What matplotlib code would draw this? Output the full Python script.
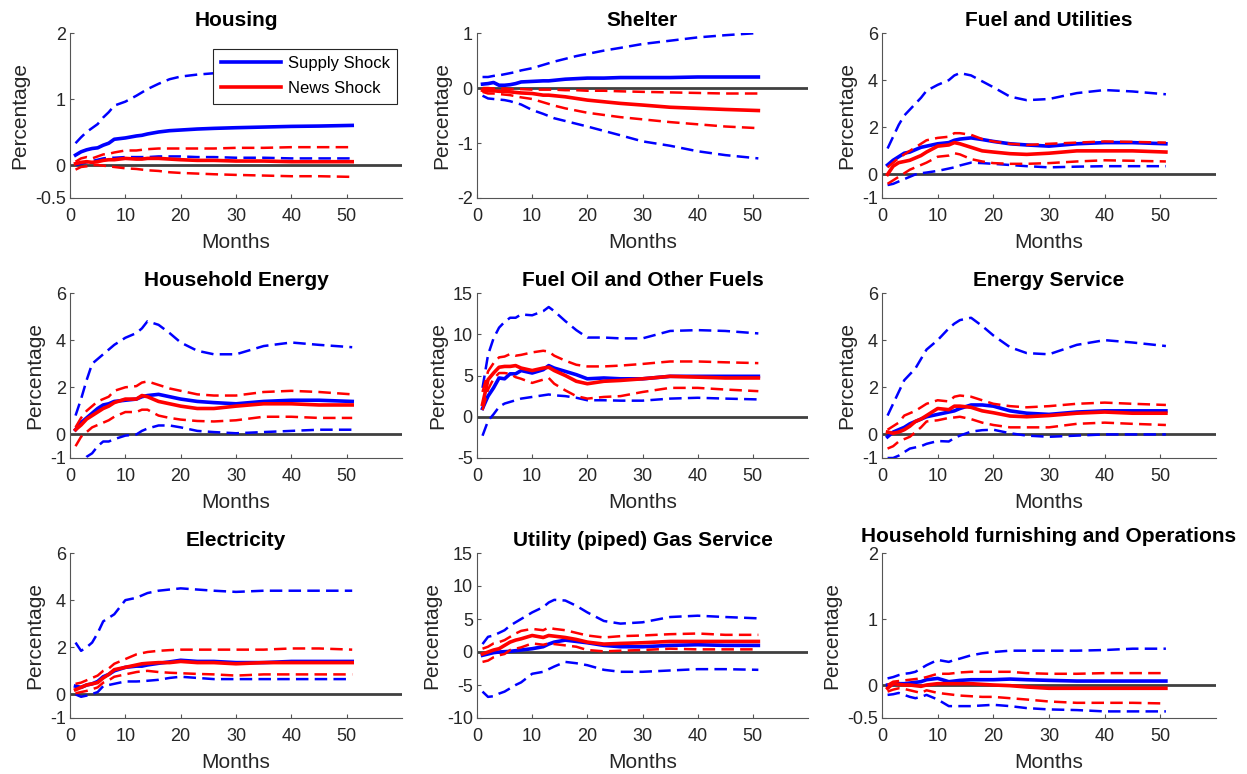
import numpy as np
import matplotlib
matplotlib.use("Agg")
import matplotlib.pyplot as plt

plt.rcParams['font.family'] = ['Liberation Sans', 'DejaVu Sans']

months = [1, 2, 3, 4, 5, 6, 7, 8, 10, 12, 13, 14, 16, 18, 20, 23, 26, 30, 35, 40, 45, 51]

# Housing
housing_supply = [0.15, 0.2, 0.23, 0.25, 0.26, 0.3, 0.33, 0.39, 0.41, 0.44, 0.45, 0.47, 0.5, 0.52, 0.53, 0.545, 0.555, 0.565, 0.575, 0.585, 0.59, 0.6]
housing_supply_hi = [0.33, 0.42, 0.5, 0.56, 0.62, 0.72, 0.8, 0.9, 0.96, 1.05, 1.1, 1.15, 1.23, 1.3, 1.34, 1.37, 1.39, 1.41, 1.43, 1.45, 1.46, 1.47]
housing_supply_lo = [0.0, 0.02, 0.04, 0.06, 0.08, 0.1, 0.11, 0.11, 0.12, 0.12, 0.12, 0.12, 0.13, 0.13, 0.13, 0.12, 0.12, 0.11, 0.11, 0.1, 0.1, 0.1]
housing_news = [0.02, 0.04, 0.05, 0.04, 0.05, 0.07, 0.08, 0.08, 0.1, 0.09, 0.09, 0.1, 0.1, 0.09, 0.08, 0.07, 0.07, 0.06, 0.06, 0.05, 0.05, 0.05]
housing_news_hi = [0.05, 0.1, 0.12, 0.1, 0.13, 0.16, 0.17, 0.19, 0.22, 0.22, 0.23, 0.24, 0.25, 0.25, 0.25, 0.25, 0.25, 0.26, 0.26, 0.27, 0.27, 0.27]
housing_news_lo = [-0.07, -0.03, -0.02, 0.0, 0.0, -0.01, -0.02, -0.03, -0.05, -0.06, -0.07, -0.08, -0.09, -0.11, -0.12, -0.13, -0.14, -0.15, -0.16, -0.17, -0.17, -0.18]

# Shelter
shelter_supply = [0.07, 0.08, 0.1, 0.05, 0.05, 0.06, 0.08, 0.11, 0.12, 0.13, 0.13, 0.14, 0.16, 0.17, 0.18, 0.18, 0.19, 0.19, 0.19, 0.2, 0.2, 0.2]
shelter_supply_hi = [0.2, 0.2, 0.22, 0.23, 0.25, 0.27, 0.29, 0.32, 0.36, 0.42, 0.45, 0.48, 0.53, 0.58, 0.62, 0.68, 0.73, 0.8, 0.86, 0.92, 0.96, 1.0]
shelter_supply_lo = [-0.14, -0.19, -0.2, -0.21, -0.22, -0.24, -0.27, -0.3, -0.4, -0.47, -0.51, -0.55, -0.6, -0.65, -0.7, -0.78, -0.86, -0.97, -1.05, -1.15, -1.22, -1.28]
shelter_news = [-0.04, -0.05, -0.05, -0.06, -0.06, -0.07, -0.08, -0.09, -0.1, -0.13, -0.13, -0.14, -0.16, -0.19, -0.22, -0.25, -0.28, -0.31, -0.35, -0.37, -0.39, -0.41]
shelter_news_hi = [0.0, 0.0, -0.01, -0.01, -0.01, -0.02, -0.02, -0.02, -0.03, -0.03, -0.03, -0.03, -0.04, -0.04, -0.05, -0.05, -0.06, -0.07, -0.08, -0.09, -0.1, -0.1]
shelter_news_lo = [-0.07, -0.1, -0.1, -0.11, -0.12, -0.13, -0.15, -0.17, -0.2, -0.26, -0.29, -0.32, -0.37, -0.41, -0.45, -0.49, -0.53, -0.57, -0.62, -0.66, -0.7, -0.73]

# Fuel and Utilities
fuel_util_supply = [0.4, 0.6, 0.75, 0.9, 0.95, 1.05, 1.15, 1.2, 1.3, 1.35, 1.45, 1.5, 1.55, 1.48, 1.4, 1.3, 1.25, 1.2, 1.3, 1.35, 1.35, 1.3]
fuel_util_supply_hi = [1.1, 1.6, 2.1, 2.5, 2.75, 3.0, 3.25, 3.55, 3.8, 4.0, 4.2, 4.3, 4.2, 3.95, 3.7, 3.3, 3.15, 3.2, 3.45, 3.58, 3.52, 3.4]
fuel_util_supply_lo = [-0.45, -0.4, -0.3, -0.2, -0.1, 0.0, 0.05, 0.08, 0.15, 0.25, 0.3, 0.38, 0.5, 0.48, 0.45, 0.4, 0.35, 0.3, 0.33, 0.35, 0.35, 0.35]
fuel_util_news = [0.0, 0.35, 0.5, 0.55, 0.6, 0.7, 0.8, 0.95, 1.2, 1.25, 1.35, 1.3, 1.15, 1.0, 0.95, 0.88, 0.85, 0.9, 1.0, 1.0, 1.0, 0.95]
fuel_util_news_hi = [0.3, 0.5, 0.7, 0.85, 1.0, 1.15, 1.3, 1.45, 1.55, 1.6, 1.75, 1.75, 1.68, 1.5, 1.4, 1.3, 1.25, 1.3, 1.35, 1.4, 1.38, 1.35]
fuel_util_news_lo = [-0.4, -0.25, -0.1, 0.05, 0.2, 0.3, 0.4, 0.5, 0.75, 0.8, 0.9, 0.85, 0.65, 0.55, 0.48, 0.45, 0.45, 0.48, 0.55, 0.6, 0.58, 0.55]

# Household Energy
hh_energy_supply = [0.2, 0.5, 0.7, 0.9, 1.1, 1.25, 1.3, 1.4, 1.45, 1.5, 1.6, 1.65, 1.7, 1.6, 1.5, 1.4, 1.35, 1.3, 1.4, 1.45, 1.45, 1.4]
hh_energy_supply_hi = [0.8, 1.5, 2.3, 3.0, 3.2, 3.4, 3.6, 3.8, 4.1, 4.3, 4.5, 4.8, 4.65, 4.3, 3.9, 3.55, 3.4, 3.4, 3.75, 3.9, 3.8, 3.7]
hh_energy_supply_lo = [-1.6, -1.2, -0.95, -0.8, -0.5, -0.3, -0.3, -0.2, -0.05, 0.0, 0.15, 0.25, 0.38, 0.38, 0.3, 0.15, 0.1, 0.05, 0.1, 0.15, 0.2, 0.2]
hh_energy_news = [0.2, 0.4, 0.65, 0.8, 0.95, 1.1, 1.2, 1.35, 1.5, 1.5, 1.65, 1.6, 1.4, 1.3, 1.2, 1.1, 1.1, 1.2, 1.3, 1.3, 1.25, 1.25]
hh_energy_news_hi = [0.3, 0.7, 1.0, 1.2, 1.4, 1.5, 1.6, 1.85, 2.0, 2.05, 2.2, 2.25, 2.1, 1.95, 1.85, 1.7, 1.65, 1.65, 1.8, 1.85, 1.8, 1.7]
hh_energy_news_lo = [-0.5, -0.1, 0.1, 0.3, 0.4, 0.5, 0.6, 0.75, 0.95, 0.95, 1.05, 1.05, 0.8, 0.7, 0.63, 0.57, 0.55, 0.6, 0.75, 0.75, 0.7, 0.7]

# Fuel Oil and Other Fuels
fuel_oil_supply = [1.0, 2.5, 3.5, 4.7, 4.6, 5.2, 5.2, 5.6, 5.3, 5.7, 6.2, 5.9, 5.5, 5.1, 4.6, 4.7, 4.6, 4.6, 4.9, 4.9, 4.9, 4.9]
fuel_oil_supply_hi = [3.5, 7.5, 9.5, 10.8, 11.5, 12.0, 12.0, 12.4, 12.3, 12.8, 13.3, 12.8, 11.6, 10.5, 9.6, 9.6, 9.5, 9.5, 10.4, 10.5, 10.4, 10.1]
fuel_oil_supply_lo = [-2.3, -0.5, 0.3, 1.2, 1.6, 1.8, 2.0, 2.2, 2.4, 2.6, 2.7, 2.6, 2.5, 2.3, 2.0, 2.0, 1.95, 1.95, 2.2, 2.3, 2.2, 2.1]
fuel_oil_news = [1.5, 4.5, 5.3, 6.0, 6.1, 6.1, 6.2, 5.9, 5.6, 5.9, 6.0, 5.6, 5.0, 4.3, 4.0, 4.3, 4.4, 4.6, 4.9, 4.8, 4.7, 4.7]
fuel_oil_news_hi = [3.0, 5.5, 6.5, 7.2, 7.3, 7.6, 7.4, 7.5, 7.8, 8.0, 7.9, 7.4, 6.8, 6.3, 6.1, 6.1, 6.2, 6.4, 6.7, 6.7, 6.6, 6.5]
fuel_oil_news_lo = [0.8, 3.3, 4.6, 5.3, 5.3, 5.2, 4.8, 4.6, 4.1, 4.5, 4.7, 4.0, 3.2, 2.5, 2.2, 2.4, 2.5, 3.0, 3.5, 3.5, 3.3, 3.1]

# Energy Service
energy_svc_supply = [-0.1, 0.1, 0.2, 0.3, 0.45, 0.55, 0.65, 0.75, 0.85, 0.95, 1.0, 1.1, 1.25, 1.25, 1.2, 1.0, 0.9, 0.85, 0.95, 1.0, 1.0, 1.0]
energy_svc_supply_hi = [0.8, 1.3, 1.8, 2.3, 2.55, 2.8, 3.2, 3.6, 4.0, 4.5, 4.7, 4.85, 4.95, 4.6, 4.2, 3.7, 3.45, 3.4, 3.8, 4.0, 3.9, 3.75]
energy_svc_supply_lo = [-1.0, -1.0, -0.9, -0.75, -0.6, -0.55, -0.5, -0.4, -0.28, -0.3, -0.15, -0.05, 0.12, 0.18, 0.2, 0.05, -0.05, -0.1, -0.05, 0.0, 0.0, 0.0]
energy_svc_news = [0.1, 0.05, 0.1, 0.2, 0.35, 0.55, 0.65, 0.8, 1.1, 1.05, 1.2, 1.2, 1.15, 1.0, 0.92, 0.78, 0.75, 0.8, 0.9, 0.95, 0.9, 0.9]
energy_svc_news_hi = [0.2, 0.35, 0.5, 0.8, 0.9, 1.0, 1.15, 1.3, 1.45, 1.4, 1.6, 1.65, 1.6, 1.45, 1.3, 1.2, 1.15, 1.2, 1.3, 1.35, 1.3, 1.25]
energy_svc_news_lo = [-0.6, -0.5, -0.3, -0.2, -0.1, 0.1, 0.3, 0.55, 0.6, 0.7, 0.72, 0.75, 0.65, 0.5, 0.4, 0.3, 0.3, 0.3, 0.45, 0.5, 0.45, 0.4]

# Electricity
elec_supply = [0.35, 0.3, 0.4, 0.45, 0.55, 0.75, 0.85, 1.0, 1.15, 1.2, 1.2, 1.25, 1.32, 1.38, 1.45, 1.4, 1.4, 1.35, 1.35, 1.4, 1.4, 1.4]
elec_supply_hi = [2.2, 1.85, 2.0, 2.2, 2.6, 3.1, 3.25, 3.4, 4.0, 4.1, 4.2, 4.3, 4.4, 4.45, 4.5, 4.45, 4.4, 4.35, 4.4, 4.4, 4.4, 4.4]
elec_supply_lo = [0.0, -0.1, -0.05, 0.02, 0.1, 0.35, 0.4, 0.45, 0.55, 0.55, 0.56, 0.58, 0.62, 0.7, 0.75, 0.7, 0.65, 0.65, 0.65, 0.65, 0.65, 0.65]
elec_news = [0.2, 0.3, 0.4, 0.45, 0.5, 0.7, 0.85, 1.05, 1.15, 1.25, 1.3, 1.32, 1.35, 1.35, 1.4, 1.35, 1.35, 1.3, 1.35, 1.35, 1.35, 1.35]
elec_news_hi = [0.45, 0.5, 0.6, 0.7, 0.8, 1.0, 1.1, 1.3, 1.5, 1.7, 1.75, 1.8, 1.85, 1.88, 1.9, 1.9, 1.9, 1.9, 1.9, 1.95, 1.95, 1.9]
elec_news_lo = [0.05, 0.1, 0.15, 0.22, 0.3, 0.5, 0.6, 0.75, 0.85, 0.95, 0.98, 1.0, 0.95, 0.92, 0.9, 0.87, 0.85, 0.8, 0.85, 0.85, 0.85, 0.85]

# Utility (piped) Gas Service
gas_supply = [-0.5, -0.3, -0.1, 0.0, 0.05, 0.1, 0.2, 0.3, 0.5, 0.8, 1.2, 1.5, 1.8, 1.6, 1.4, 1.0, 0.8, 0.8, 1.0, 1.1, 1.0, 1.0]
gas_supply_hi = [1.2, 2.3, 2.5, 2.9, 3.3, 4.0, 4.5, 5.0, 6.0, 6.8, 7.5, 7.9, 7.8, 7.0, 6.0, 4.7, 4.3, 4.5, 5.3, 5.5, 5.3, 5.1]
gas_supply_lo = [-6.0, -6.8, -6.7, -6.3, -6.0, -5.5, -5.0, -4.6, -3.3, -3.0, -2.6, -2.2, -1.5, -1.7, -2.0, -2.7, -3.0, -3.0, -2.8, -2.6, -2.6, -2.7]
gas_news = [-0.3, 0.0, 0.3, 0.5, 1.0, 1.5, 1.8, 2.0, 2.5, 2.2, 2.5, 2.4, 2.2, 1.9, 1.5, 1.2, 1.3, 1.4, 1.6, 1.6, 1.6, 1.6]
gas_news_hi = [0.5, 0.8, 1.3, 1.5, 1.8, 2.3, 2.8, 3.2, 3.5, 3.3, 3.7, 3.5, 3.3, 2.9, 2.5, 2.2, 2.4, 2.5, 2.7, 2.8, 2.6, 2.6]
gas_news_lo = [-1.5, -1.3, -0.8, -0.5, -0.3, 0.3, 0.5, 0.7, 1.3, 1.1, 1.3, 1.2, 1.0, 0.8, 0.3, 0.1, 0.2, 0.3, 0.5, 0.4, 0.4, 0.4]

# Household furnishing and Operations
furnish_supply = [0.0, 0.01, 0.02, 0.02, 0.03, 0.04, 0.05, 0.08, 0.1, 0.05, 0.06, 0.07, 0.08, 0.08, 0.08, 0.09, 0.08, 0.07, 0.06, 0.06, 0.06, 0.06]
furnish_supply_hi = [0.1, 0.12, 0.15, 0.17, 0.18, 0.2, 0.25, 0.3, 0.38, 0.35, 0.38, 0.4, 0.45, 0.48, 0.5, 0.52, 0.52, 0.52, 0.52, 0.53, 0.55, 0.55]
furnish_supply_lo = [-0.15, -0.14, -0.12, -0.15, -0.18, -0.2, -0.18, -0.15, -0.22, -0.32, -0.32, -0.32, -0.32, -0.31, -0.3, -0.32, -0.35, -0.37, -0.38, -0.4, -0.4, -0.4]
furnish_news = [-0.05, 0.02, 0.01, 0.0, 0.0, -0.01, -0.02, 0.0, 0.02, 0.02, 0.02, 0.02, 0.02, 0.01, 0.0, -0.01, -0.03, -0.05, -0.05, -0.05, -0.05, -0.05]
furnish_news_hi = [0.0, 0.05, 0.06, 0.07, 0.08, 0.09, 0.1, 0.12, 0.17, 0.17, 0.18, 0.19, 0.2, 0.2, 0.2, 0.2, 0.18, 0.17, 0.17, 0.18, 0.18, 0.18]
furnish_news_lo = [-0.1, -0.07, -0.05, -0.06, -0.08, -0.1, -0.12, -0.08, -0.12, -0.14, -0.15, -0.16, -0.17, -0.18, -0.18, -0.2, -0.22, -0.25, -0.27, -0.27, -0.27, -0.28]

titles = ["Housing", "Shelter", "Fuel and Utilities",
          "Household Energy", "Fuel Oil and Other Fuels", "Energy Service",
          "Electricity", "Utility (piped) Gas Service", "Household furnishing and Operations"]

series = [
    (housing_supply, housing_supply_hi, housing_supply_lo, housing_news, housing_news_hi, housing_news_lo),
    (shelter_supply, shelter_supply_hi, shelter_supply_lo, shelter_news, shelter_news_hi, shelter_news_lo),
    (fuel_util_supply, fuel_util_supply_hi, fuel_util_supply_lo, fuel_util_news, fuel_util_news_hi, fuel_util_news_lo),
    (hh_energy_supply, hh_energy_supply_hi, hh_energy_supply_lo, hh_energy_news, hh_energy_news_hi, hh_energy_news_lo),
    (fuel_oil_supply, fuel_oil_supply_hi, fuel_oil_supply_lo, fuel_oil_news, fuel_oil_news_hi, fuel_oil_news_lo),
    (energy_svc_supply, energy_svc_supply_hi, energy_svc_supply_lo, energy_svc_news, energy_svc_news_hi, energy_svc_news_lo),
    (elec_supply, elec_supply_hi, elec_supply_lo, elec_news, elec_news_hi, elec_news_lo),
    (gas_supply, gas_supply_hi, gas_supply_lo, gas_news, gas_news_hi, gas_news_lo),
    (furnish_supply, furnish_supply_hi, furnish_supply_lo, furnish_news, furnish_news_hi, furnish_news_lo),
]

y_ticks = [[-0.5, 0, 1, 2], [-2, -1, 0, 1], [-1, 0, 2, 4, 6],
           [-1, 0, 2, 4, 6], [-5, 0, 5, 10, 15], [-1, 0, 2, 4, 6],
           [-1, 0, 2, 4, 6], [-10, -5, 0, 5, 10, 15], [-0.5, 0, 1, 2]]

x_ticks = [0, 10, 20, 30, 40, 50]

# layout in pixels (MATLAB subplot boxes)
W, H = 1247, 774
col_left = [70, 477, 882]
col_width = [332, 331, 334]
row_top = [33, 293, 553]
ax_h = 165

fig = plt.figure(figsize=(W / 100, H / 100), dpi=100)

txt_col = '#262626'
dash = (0, (5, 2.5))

for i in range(9):
    r, c = divmod(i, 3)
    ax = fig.add_axes([col_left[c] / W, 1 - (row_top[r] + ax_h) / H, col_width[c] / W, ax_h / H])
    s_mid, s_hi, s_lo, n_mid, n_hi, n_lo = series[i]

    ax.plot([0, 60], [0, 0], color='#404040', lw=2.0)
    l1, = ax.plot(months, s_mid, color='blue', lw=2.6, label='Supply Shock')
    ax.plot(months, s_hi, color='blue', lw=1.8, linestyle=dash)
    ax.plot(months, s_lo, color='blue', lw=1.8, linestyle=dash)
    l2, = ax.plot(months, n_mid, color='red', lw=2.6, label='News Shock')
    ax.plot(months, n_hi, color='red', lw=1.8, linestyle=dash)
    ax.plot(months, n_lo, color='red', lw=1.8, linestyle=dash)

    yt = y_ticks[i]
    ax.set_xlim(0, 60)
    ax.set_ylim(yt[0], yt[-1])
    ax.set_xticks(x_ticks)
    ax.set_yticks(yt)
    ax.set_yticklabels([('%g' % v) for v in yt])

    for side in ['top', 'right']:
        ax.spines[side].set_visible(False)
    for side in ['left', 'bottom']:
        ax.spines[side].set_color('#555555')
        ax.spines[side].set_linewidth(0.8)
    ax.tick_params(direction='in', length=3, width=0.8, color='#555555',
                   labelsize=13, labelcolor=txt_col)
    ax.tick_params(axis='x', pad=7)
    ax.tick_params(axis='y', pad=3)

    # the long last title sits a little higher so it clears the top tick label
    ax.set_title(titles[i], fontsize=15, fontweight='bold', pad=8 if i == 8 else 5)
    ax.set_xlabel('Months', fontsize=15, color=txt_col, labelpad=6)
    ax.set_ylabel('Percentage', fontsize=15, color=txt_col, labelpad=4)

    if i == 0:
        leg = ax.legend(handles=[l1, l2], loc='upper right', bbox_to_anchor=(0.985, 0.905),
                        fontsize=12, handlelength=3.6, frameon=True, fancybox=False,
                        framealpha=1, borderpad=0.45, labelspacing=0.6,
                        handletextpad=0.4, borderaxespad=0)
        leg.get_frame().set_edgecolor('#262626')
        leg.get_frame().set_linewidth(0.8)

fig.savefig('out.png', dpi=100)
